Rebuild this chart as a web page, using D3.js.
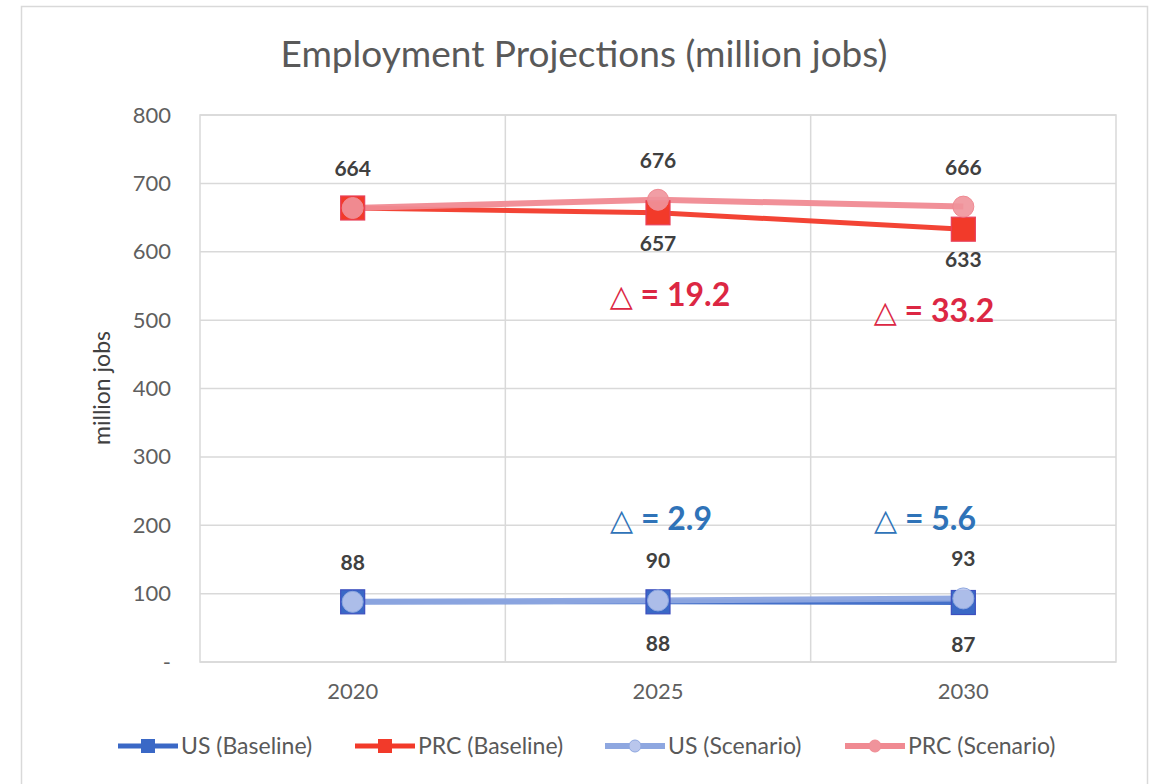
<!DOCTYPE html>
<html>
<head>
<meta charset="utf-8">
<script src="https://cdn.jsdelivr.net/npm/d3@7"></script>
<style>
  html, body { margin: 0; padding: 0; background: #fff; }
  svg { display: block; font-family: Lato, "Open Sans", sans-serif; }
</style>
</head>
<body>
<svg id="chart" width="1153" height="784"></svg>
<script>
// Employment projections, million jobs
const years = ["2020", "2025", "2030"];
const usBaseline = [88, 88, 87];
const prcBaseline = [664, 657, 633];
const usScenario = [88, 90, 93];
const prcScenario = [664, 676, 666];
const yTicks = [0, 100, 200, 300, 400, 500, 600, 700, 800];
const usDeltas = ["2.9", "5.6"];
const prcDeltas = ["19.2", "33.2"];

const series = [
  { name: "US (Baseline)", values: usBaseline, color: "#3a68c6", marker: "square", fill: "#3a68c6", width: 5, labelDy: 42, labelFrom: 1 },
  { name: "PRC (Baseline)", values: prcBaseline, color: "#f23a2a", marker: "square", fill: "#f23a2a", width: 5, labelDy: 31, labelFrom: 1 },
  { name: "US (Scenario)", values: usScenario, color: "#8ea7e0", marker: "circle", fill: "#b9c6ec", width: 6, labelDy: -39, labelFrom: 0 },
  { name: "PRC (Scenario)", values: prcScenario, color: "#f08a92", marker: "circle", fill: "#f0939b", width: 6, labelDy: -39, labelFrom: 0 }
];

const svg = d3.select("#chart");
const margin = { left: 200, right: 1116, top: 115, bottom: 662 };

const x = d3.scaleBand().domain(years).range([margin.left, margin.right]).padding(0);
const y = d3.scaleLinear().domain([0, 800]).range([margin.bottom, margin.top]);
const cx = d => x(d) + x.bandwidth() / 2;

// outer frame
svg.append("rect").attr("x", 21.5).attr("y", 6.5).attr("width", 1126).attr("height", 800)
  .attr("fill", "#fff").attr("stroke", "#d9d9d9").attr("stroke-width", 1.5);

// title
svg.append("text").attr("x", 584).attr("y", 67).attr("text-anchor", "middle")
  .attr("font-size", 37).attr("fill", "#595959").text("Employment Projections (million jobs)");

// horizontal gridlines
svg.append("g").selectAll("line").data(yTicks).join("line")
  .attr("x1", margin.left).attr("x2", margin.right)
  .attr("y1", d => y(d)).attr("y2", d => y(d))
  .attr("stroke", "#d9d9d9").attr("stroke-width", 1.5);

// vertical gridlines at category boundaries
svg.append("g").selectAll("line").data(years.slice(1)).join("line")
  .attr("x1", d => x(d)).attr("x2", d => x(d))
  .attr("y1", margin.top).attr("y2", margin.bottom)
  .attr("stroke", "#d9d9d9").attr("stroke-width", 1.5);

// plot border
svg.append("rect").attr("x", margin.left).attr("y", margin.top)
  .attr("width", margin.right - margin.left).attr("height", margin.bottom - margin.top)
  .attr("fill", "none").attr("stroke", "#d9d9d9").attr("stroke-width", 1.5);

// y axis
const yAxis = d3.axisLeft(y).tickValues(yTicks).tickSize(0).tickPadding(29)
  .tickFormat(d => d === 0 ? "-" : d);
const gy = svg.append("g").attr("transform", `translate(${margin.left},0)`).call(yAxis);
gy.select(".domain").remove();
gy.selectAll("text").attr("font-size", 22).attr("fill", "#5f5f5f").attr("font-family", "Lato, sans-serif");

// x axis
const xAxis = d3.axisBottom(x).tickSize(0).tickPadding(21);
const gx = svg.append("g").attr("transform", `translate(0,${margin.bottom})`).call(xAxis);
gx.select(".domain").remove();
gx.selectAll("text").attr("font-size", 22).attr("fill", "#5f5f5f").attr("font-family", "Lato, sans-serif");

// y axis title
svg.append("text").attr("transform", "translate(110,388) rotate(-90)")
  .attr("text-anchor", "middle").attr("font-size", 23).attr("fill", "#404040").text("million jobs");

// lines
const line = d3.line().x((d, i) => cx(years[i])).y(d => y(d));
series.forEach(s => {
  svg.append("path").datum(s.values).attr("d", line)
    .attr("fill", "none").attr("stroke", s.color).attr("stroke-width", s.width)
    .attr("stroke-linejoin", "round").attr("stroke-opacity", 0.95);
});

// markers
series.forEach(s => {
  const g = svg.append("g");
  if (s.marker === "square") {
    g.selectAll("rect").data(s.values).join("rect")
      .attr("x", (d, i) => cx(years[i]) - 12).attr("y", d => y(d) - 12)
      .attr("width", 24).attr("height", 24)
      .attr("fill", s.fill).attr("stroke", s.name.startsWith("US") ? "#3c4fbf" : "#e8405a").attr("stroke-width", 1.2);
  } else {
    g.selectAll("circle").data(s.values).join("circle")
      .attr("cx", (d, i) => cx(years[i])).attr("cy", d => y(d)).attr("r", 10.5)
      .attr("fill", s.fill).attr("fill-opacity", 0.9).attr("stroke", s.color).attr("stroke-width", 1);
  }
});

// data labels
series.forEach(s => {
  svg.append("g").selectAll("text").data(s.values.slice(s.labelFrom)).join("text")
    .attr("x", (d, i) => cx(years[i + s.labelFrom]))
    .attr("y", d => y(d) + s.labelDy + 7)
    .attr("text-anchor", "middle").attr("font-size", 21).attr("font-weight", "bold")
    .attr("fill", "#404040").text(d => d);
});

// difference annotations
function delta(xp, yp, value, color) {
  const t = svg.append("text").attr("x", xp).attr("y", yp).attr("text-anchor", "middle")
    .attr("font-size", 32).attr("fill", color);
  t.append("tspan").attr("font-weight", "normal").attr("font-family", "DejaVu Sans").attr("font-size", 30).text("△");
  t.append("tspan").attr("font-weight", "bold").text(" = " + value);
}
delta(670, 306, prcDeltas[0], "#dc2743");
delta(934, 322, prcDeltas[1], "#dc2743");
delta(661, 530, usDeltas[0], "#2f73b8");
delta(925, 530, usDeltas[1], "#2f73b8");

// legend
const legendX = [118, 355, 605, 845];
series.forEach((s, i) => {
  const g = svg.append("g").attr("transform", `translate(${legendX[i]},746)`);
  g.append("line").attr("x1", 0).attr("x2", 60).attr("y1", 0).attr("y2", 0)
    .attr("stroke", s.color).attr("stroke-width", s.width);
  if (s.marker === "square") {
    g.append("rect").attr("x", 23).attr("y", -7).attr("width", 14).attr("height", 14).attr("fill", s.fill);
  } else {
    g.append("circle").attr("cx", 30).attr("cy", 0).attr("r", 6).attr("fill", s.fill).attr("stroke", s.color);
  }
  g.append("text").attr("x", 63).attr("y", 8).attr("font-size", 23).attr("fill", "#595959").text(s.name);
});
</script>
</body>
</html>
